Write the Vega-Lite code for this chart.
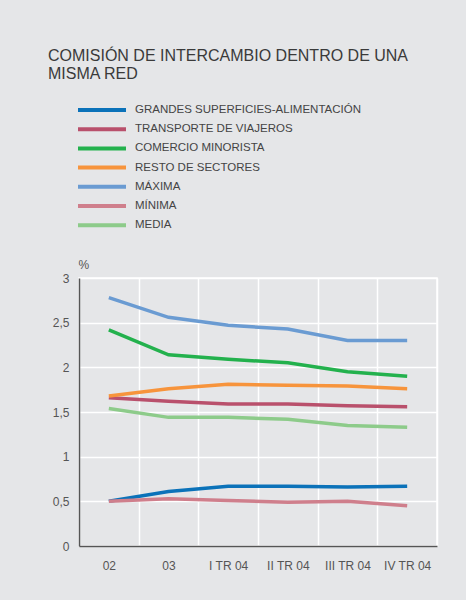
{
  "$schema": "https://vega.github.io/schema/vega-lite/v6.json",
  "width": 358,
  "height": 268,
  "autosize": "none",
  "padding": {"left": 79, "top": 278, "right": 29, "bottom": 54},
  "background": "#e5e6e8",
  "title": {
    "text": ["COMISIÓN DE INTERCAMBIO DENTRO DE UNA", "MISMA RED"],
    "anchor": "start",
    "frame": "group",
    "dx": -31,
    "fontSize": 16,
    "font": "Liberation Sans",
    "fontWeight": "normal",
    "color": "#3a3a3a",
    "lineHeight": 18.5,
    "offset": 20
  },
  "data": {
    "values": [
      {"periodo": "02", "serie": "GRANDES SUPERFICIES-ALIMENTACIÓN", "valor": 0.50},
      {"periodo": "03", "serie": "GRANDES SUPERFICIES-ALIMENTACIÓN", "valor": 0.61},
      {"periodo": "I TR 04", "serie": "GRANDES SUPERFICIES-ALIMENTACIÓN", "valor": 0.67},
      {"periodo": "II TR 04", "serie": "GRANDES SUPERFICIES-ALIMENTACIÓN", "valor": 0.67},
      {"periodo": "III TR 04", "serie": "GRANDES SUPERFICIES-ALIMENTACIÓN", "valor": 0.66},
      {"periodo": "IV TR 04", "serie": "GRANDES SUPERFICIES-ALIMENTACIÓN", "valor": 0.67},
      {"periodo": "02", "serie": "TRANSPORTE DE VIAJEROS", "valor": 1.66},
      {"periodo": "03", "serie": "TRANSPORTE DE VIAJEROS", "valor": 1.62},
      {"periodo": "I TR 04", "serie": "TRANSPORTE DE VIAJEROS", "valor": 1.59},
      {"periodo": "II TR 04", "serie": "TRANSPORTE DE VIAJEROS", "valor": 1.59},
      {"periodo": "III TR 04", "serie": "TRANSPORTE DE VIAJEROS", "valor": 1.57},
      {"periodo": "IV TR 04", "serie": "TRANSPORTE DE VIAJEROS", "valor": 1.56},
      {"periodo": "02", "serie": "COMERCIO MINORISTA", "valor": 2.42},
      {"periodo": "03", "serie": "COMERCIO MINORISTA", "valor": 2.14},
      {"periodo": "I TR 04", "serie": "COMERCIO MINORISTA", "valor": 2.09},
      {"periodo": "II TR 04", "serie": "COMERCIO MINORISTA", "valor": 2.05},
      {"periodo": "III TR 04", "serie": "COMERCIO MINORISTA", "valor": 1.95},
      {"periodo": "IV TR 04", "serie": "COMERCIO MINORISTA", "valor": 1.90},
      {"periodo": "02", "serie": "RESTO DE SECTORES", "valor": 1.68},
      {"periodo": "03", "serie": "RESTO DE SECTORES", "valor": 1.76},
      {"periodo": "I TR 04", "serie": "RESTO DE SECTORES", "valor": 1.81},
      {"periodo": "II TR 04", "serie": "RESTO DE SECTORES", "valor": 1.80},
      {"periodo": "III TR 04", "serie": "RESTO DE SECTORES", "valor": 1.79},
      {"periodo": "IV TR 04", "serie": "RESTO DE SECTORES", "valor": 1.76},
      {"periodo": "02", "serie": "MÁXIMA", "valor": 2.78},
      {"periodo": "03", "serie": "MÁXIMA", "valor": 2.56},
      {"periodo": "I TR 04", "serie": "MÁXIMA", "valor": 2.47},
      {"periodo": "II TR 04", "serie": "MÁXIMA", "valor": 2.43},
      {"periodo": "III TR 04", "serie": "MÁXIMA", "valor": 2.30},
      {"periodo": "IV TR 04", "serie": "MÁXIMA", "valor": 2.30},
      {"periodo": "02", "serie": "MÍNIMA", "valor": 0.50},
      {"periodo": "03", "serie": "MÍNIMA", "valor": 0.53},
      {"periodo": "I TR 04", "serie": "MÍNIMA", "valor": 0.51},
      {"periodo": "II TR 04", "serie": "MÍNIMA", "valor": 0.49},
      {"periodo": "III TR 04", "serie": "MÍNIMA", "valor": 0.50},
      {"periodo": "IV TR 04", "serie": "MÍNIMA", "valor": 0.45},
      {"periodo": "02", "serie": "MEDIA", "valor": 1.54},
      {"periodo": "03", "serie": "MEDIA", "valor": 1.44},
      {"periodo": "I TR 04", "serie": "MEDIA", "valor": 1.44},
      {"periodo": "II TR 04", "serie": "MEDIA", "valor": 1.42},
      {"periodo": "III TR 04", "serie": "MEDIA", "valor": 1.35},
      {"periodo": "IV TR 04", "serie": "MEDIA", "valor": 1.33}
    ]
  },
  "mark": {"type": "line", "strokeWidth": 3.5},
  "encoding": {
    "x": {
      "field": "periodo",
      "type": "ordinal",
      "sort": ["02", "03", "I TR 04", "II TR 04", "III TR 04", "IV TR 04"],
      "bandPosition": 0.5,
      "scale": {"type": "band", "paddingInner": 0, "paddingOuter": 0},
      "axis": {
        "title": null,
        "grid": true,
        "gridColor": "white",
        "gridWidth": 1.5,
        "gridOpacity": 1,
        "tickBand": "extent",
        "ticks": false,
        "labelAngle": 0,
        "labelPadding": 14,
        "labelFontSize": 12,
        "labelColor": "#555555",
        "domainColor": "#555555",
        "domainWidth": 1.5
      }
    },
    "y": {
      "field": "valor",
      "type": "quantitative",
      "scale": {"domain": [0, 3], "nice": false, "zero": true},
      "axis": {
        "title": "%",
        "titleAngle": 0,
        "titleAlign": "left",
        "titleBaseline": "alphabetic",
        "titleX": -1,
        "titleY": -10,
        "titleFontSize": 12,
        "titleFontWeight": "normal",
        "titleColor": "#555555",
        "values": [0, 0.5, 1, 1.5, 2, 2.5, 3],
        "labelExpr": "replace(format(datum.value, '~g'), '.', ',')",
        "ticks": false,
        "labelPadding": 10,
        "labelFontSize": 12,
        "labelColor": "#555555",
        "grid": true,
        "gridColor": "white",
        "gridWidth": 1.5,
        "gridOpacity": 1,
        "domainColor": "#555555",
        "domainWidth": 1.5
      }
    },
    "color": {
      "field": "serie",
      "type": "nominal",
      "scale": {
        "domain": ["GRANDES SUPERFICIES-ALIMENTACIÓN", "TRANSPORTE DE VIAJEROS", "COMERCIO MINORISTA", "RESTO DE SECTORES", "MÁXIMA", "MÍNIMA", "MEDIA"],
        "range": ["#0b72b9", "#b9506c", "#23b14d", "#f7943c", "#6a9bd2", "#cf7f8c", "#8dcb8a"]
      },
      "legend": {
        "orient": "none",
        "legendX": 15,
        "legendY": -176,
        "direction": "vertical",
        "title": null,
        "symbolType": "M-4,0H4",
        "symbolSize": 144,
        "symbolStrokeWidth": 4,
        "symbolOpacity": 1,
        "labelOffset": 25,
        "labelFontSize": 11.5,
        "labelColor": "#444444",
        "labelLimit": 400,
        "rowPadding": 3.2,
        "padding": 0
      }
    }
  },
  "config": {
    "font": "Liberation Sans",
    "view": {"stroke": "white", "strokeWidth": 1.5}
  }
}
